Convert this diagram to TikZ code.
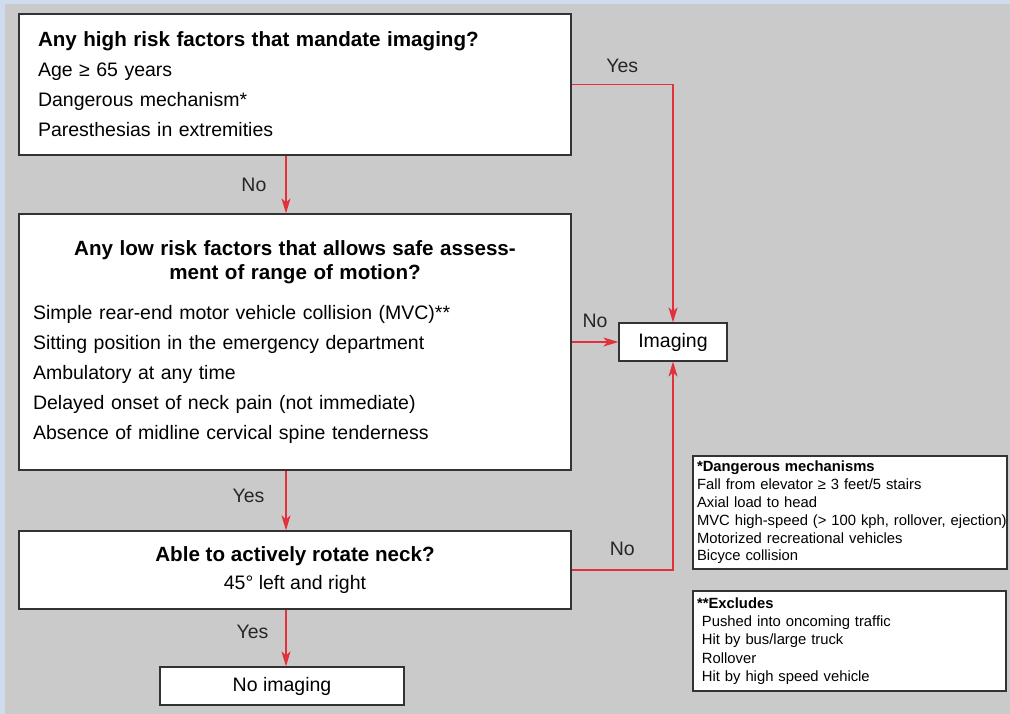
\documentclass[tikz,border=0pt]{standalone}
\usepackage{fontspec}
\setmainfont{Liberation Sans}
\usetikzlibrary{arrows.meta, positioning}
\definecolor{panel}{HTML}{C9CAC9}
\definecolor{frame}{HTML}{CFDBEF}
\definecolor{flow}{HTML}{E2313B}
\newcommand{\hd}[1]{{\fontsize{20.6}{30}\selectfont\bfseries #1}}
\tikzset{
  box/.style={draw=black!80, line width=1.2pt, fill=white, inner sep=0pt},
  arr/.style={flow, line width=1.3pt, -{Stealth[length=15pt,width=9pt,inset=4pt]}},
  lbl/.style={inner sep=0pt, text=black!85, font=\fontsize{19.5}{24}\selectfont},
  big/.style={font=\fontsize{19.5}{30}\selectfont},
  small/.style={align=left, font=\fontsize{14.8}{17.8}\selectfont}
}
\begin{document}
\begin{tikzpicture}[x=1pt, y=-1pt]
\useasboundingbox (0,0) rectangle (1010,714);
% Background panel with its blue edge
\fill[frame] (0,0) rectangle (1010,714);
\fill[panel] (5,4) rectangle (1010,714);
% Decision boxes
\node[box, big, minimum width=552pt, minimum height=141pt, text width=514pt, align=left] (high) at (295,84.5)
  {\hd{Any high risk factors that mandate imaging?}\\Age ≥ 65 years\\Dangerous mechanism*\\Paresthesias in extremities};
\node[box, big, minimum width=552pt, minimum height=256pt, text width=524pt, align=left] (low) at (295,342)
  {\makebox[\linewidth]{\hd{Any low risk factors that allows safe assess-}}\\[-6pt]
   \makebox[\linewidth]{\hd{ment of range of motion?}}\\[10pt]
   Simple rear-end motor vehicle collision (MVC)**\\
   Sitting position in the emergency department\\
   Ambulatory at any time\\
   Delayed onset of neck pain (not immediate)\\
   Absence of midline cervical spine tenderness};
\node[box, font=\fontsize{19.5}{28}\selectfont, minimum width=552pt, minimum height=78pt, align=center] (rot) at (295,570)
  {\hd{Able to actively rotate neck?}\\45° left and right};
% Outcomes
\node[box, big, minimum width=244pt, minimum height=38pt] (noimg) at (282,686) {No imaging};
\node[box, big, minimum width=108pt, minimum height=38pt] (img) at (673,342) {Imaging};
% Footnote boxes
\node[box, small, minimum width=314pt, minimum height=113pt, text width=306pt] (dang) at (850,512.5)
  {\textbf{*Dangerous mechanisms}\\Fall from elevator ≥ 3 feet/5 stairs\\Axial load to head\\
   \makebox[\linewidth][l]{MVC high-speed (> 100 kph, rollover, ejection)}\\Motorized recreational vehicles\\Bicyce collision};
\node[box, small, font=\fontsize{14.8}{18.25}\selectfont, minimum width=313pt, minimum height=100pt, text width=305pt] (excl) at (849.5,641)
  {\textbf{**Excludes}\\\ Pushed into oncoming traffic\\\ Hit by bus/large truck\\\ Rollover\\\ Hit by high speed vehicle};
% Connectors
\draw[arr] ([xshift=-9pt]high.south) -- node[lbl, left=19pt] {No} ([xshift=-9pt]high.south |- low.north);
\draw[arr] (high.east) -- node[lbl, above=11pt] {Yes} (high.east -| img.north) -- (img.north);
\draw[arr] (low.east |- img.west) -- node[lbl, above=14pt] {No} (img.west);
\draw[arr] ([xshift=-9pt]low.south) -- node[lbl, pos=0.43, left=21pt] {Yes} ([xshift=-9pt]low.south |- rot.north);
\draw[arr] (rot.east) -- node[lbl, above=14pt] {No} (rot.east -| img.south) -- (img.south);
\draw[arr] ([xshift=-9pt]rot.south) -- node[lbl, pos=0.4, left=17pt] {Yes} ([xshift=-9pt]rot.south |- noimg.north);
\end{tikzpicture}
\end{document}
